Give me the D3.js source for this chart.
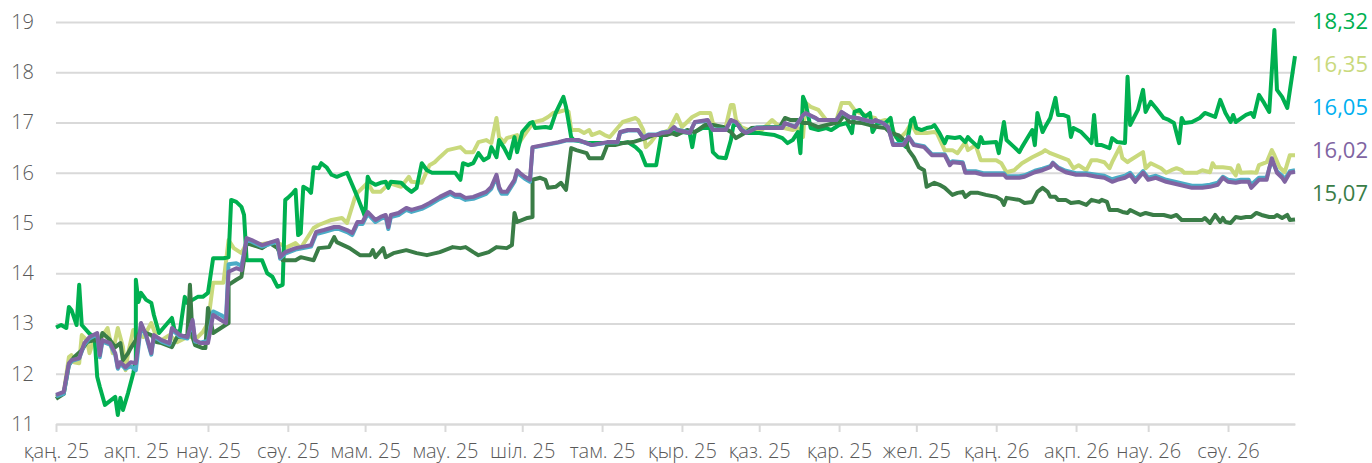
<!DOCTYPE html>
<html>
<head>
<meta charset="utf-8">
<script src="https://cdn.jsdelivr.net/npm/d3@7"></script>
<style>
  body { margin: 0; background: #fff; }
  svg text { font-family: "Open Sans", "Noto Sans", sans-serif; }
</style>
</head>
<body>
<svg id="chart" width="1372" height="463"></svg>
<script>
// day offsets are counted from 1 Jan 2025
const startDate = new Date(2025, 0, 1);
const lastDay = 481;

const monthLabels = ["қаң. 25", "ақп. 25", "нау. 25", "сәу. 25", "мам. 25", "мау. 25", "шіл. 25", "там. 25",
  "қыр. 25", "қаз. 25", "қар. 25", "жел. 25", "қаң. 26", "ақп. 26", "нау. 26", "сәу. 26"];
const yTicks = [11, 12, 13, 14, 15, 16, 17, 18, 19];

// [day, value]
const seriesGreen = [[0,12.92],[2,12.97],[4,12.91],[5,13.33],[6,13.27],[8,12.97],[9,13.77],[10,12.97],[13,12.8],[15,12.73],[16,11.94],[17,11.74],[19,11.38],[23,11.54],[24,11.18],[25,11.52],[26,11.28],[28,11.62],[30,12.01],[31,12.27],[31,13.87],[32,13.43],[33,13.61],[35,13.47],[37,13.41],[38,13.17],[40,12.81],[42,12.93],[45,13.11],[46,12.87],[48,12.81],[50,13.53],[51,13.41],[53,13.47],[55,13.53],[57,13.53],[59,13.61],[61,14.3],[65,14.3],[67,14.32],[68,15.46],[70,15.42],[72,15.32],[73,15.16],[74,14.26],[80,14.26],[82,14.0],[84,13.93],[86,13.73],[88,13.77],[89,15.46],[90,15.5],[92,15.6],[93,15.66],[94,14.76],[95,14.8],[96,15.72],[98,15.66],[99,15.6],[100,16.11],[102,16.09],[103,16.19],[105,16.11],[107,15.96],[109,15.92],[111,15.96],[113,16.0],[115,15.76],[117,15.52],[119,15.26],[120,15.12],[121,15.92],[122,15.82],[124,15.76],[126,15.8],[128,15.82],[129,15.7],[130,15.82],[134,15.8],[136,15.7],[138,15.62],[140,15.7],[142,16.19],[144,16.05],[146,16.0],[150,16.0],[155,16.0],[157,15.86],[158,16.19],[160,16.15],[162,16.19],[164,16.39],[166,16.25],[168,16.31],[169,16.51],[171,16.31],[172,16.65],[174,16.49],[176,16.29],[178,16.71],[179,16.41],[181,16.81],[184,16.99],[185,17.01],[186,16.89],[190,16.91],[192,16.89],[194,17.19],[197,17.51],[198,17.31],[200,16.71],[201,16.65],[207,16.59],[220,16.59],[222,16.61],[225,16.51],[227,16.41],[229,16.15],[233,16.15],[235,16.75],[241,16.81],[243,16.81],[246,16.79],[247,16.51],[248,16.81],[251,16.89],[254,16.89],[255,16.41],[257,16.31],[260,16.29],[262,16.65],[263,16.95],[265,16.95],[267,16.79],[273,16.79],[279,16.75],[282,16.69],[284,16.59],[286,16.65],[288,16.81],[289,16.39],[290,17.51],[291,17.39],[293,16.89],[296,16.85],[299,16.89],[301,16.85],[304,16.95],[307,16.99],[309,16.79],[310,17.21],[312,17.25],[314,17.11],[316,17.19],[317,16.81],[319,16.99],[322,16.99],[324,17.09],[325,16.81],[327,16.65],[330,16.51],[332,17.05],[333,17.09],[334,16.89],[336,16.85],[338,16.89],[340,16.91],[341,16.95],[343,16.79],[345,16.59],[346,16.71],[349,16.69],[351,16.71],[353,16.61],[354,16.71],[355,16.65],[358,16.51],[359,16.71],[360,16.59],[365,16.61],[366,16.39],[368,17.01],[369,16.65],[372,16.51],[374,16.41],[375,16.51],[379,16.85],[380,16.55],[381,17.19],[383,16.81],[384,16.91],[386,17.09],[388,17.49],[389,17.15],[391,17.15],[393,17.11],[394,16.71],[395,16.89],[398,16.81],[401,16.65],[402,16.59],[403,17.15],[404,16.55],[406,16.55],[408,16.51],[409,16.49],[410,16.69],[412,16.61],[415,16.59],[416,17.91],[417,16.95],[420,17.25],[422,17.65],[423,17.21],[425,17.41],[427,17.29],[430,17.09],[432,17.05],[434,16.99],[436,16.59],[437,17.09],[438,16.99],[441,17.01],[444,17.09],[446,17.19],[450,17.11],[452,17.45],[454,17.19],[456,17.01],[457,17.15],[458,17.01],[462,17.15],[464,17.19],[465,17.11],[467,17.55],[469,17.39],[471,17.21],[473,18.84],[474,17.65],[476,17.51],[478,17.29],[481,18.32]];

const seriesYellow = [[0,11.54],[3,11.62],[5,12.33],[6,12.37],[7,12.23],[9,12.21],[10,12.77],[12,12.67],[13,12.41],[15,12.73],[17,12.67],[20,12.91],[21,12.67],[22,12.41],[24,12.91],[26,12.53],[27,12.07],[28,12.41],[30,12.87],[32,12.77],[34,12.73],[37,13.01],[39,12.73],[41,12.67],[44,12.77],[47,12.63],[51,12.73],[55,12.73],[57,12.83],[59,13.01],[61,13.81],[65,13.81],[67,14.66],[69,14.5],[72,14.4],[74,14.6],[77,14.56],[85,14.62],[88,14.56],[89,14.5],[93,14.6],[95,14.5],[100,14.9],[102,14.96],[107,15.06],[111,15.1],[113,15.0],[116,15.5],[117,15.6],[121,15.8],[123,15.62],[126,15.62],[128,15.72],[129,15.8],[134,15.72],[137,15.92],[138,15.82],[142,15.8],[145,16.15],[147,16.21],[149,16.31],[152,16.45],[157,16.51],[159,16.41],[162,16.41],[164,16.61],[167,16.65],[169,16.59],[171,17.09],[172,16.71],[174,16.61],[175,16.69],[179,16.75],[180,16.61],[181,16.69],[184,16.91],[186,17.01],[189,17.05],[191,17.11],[193,17.19],[195,17.21],[198,17.25],[199,17.21],[200,16.85],[203,16.85],[205,16.79],[207,16.85],[208,16.75],[211,16.81],[213,16.75],[215,16.71],[220,17.01],[225,17.09],[226,17.05],[228,16.85],[229,16.51],[231,16.61],[233,16.75],[238,16.85],[241,17.15],[243,16.91],[247,17.11],[250,17.19],[254,17.19],[255,16.99],[257,16.91],[260,16.91],[262,17.35],[263,17.35],[264,17.05],[266,16.91],[269,16.85],[274,16.85],[278,17.05],[281,16.91],[286,16.85],[288,16.89],[290,16.71],[291,17.39],[293,17.31],[296,17.25],[299,17.05],[303,17.05],[305,17.39],[308,17.39],[310,17.25],[312,17.19],[316,17.11],[318,17.09],[319,17.01],[322,17.05],[324,16.99],[326,16.71],[328,16.71],[330,16.81],[332,16.99],[334,16.79],[338,16.79],[341,16.81],[342,16.79],[345,16.45],[348,16.45],[350,16.39],[353,16.61],[354,16.45],[357,16.55],[359,16.25],[365,16.25],[367,16.19],[369,16.01],[372,16.05],[375,16.19],[379,16.31],[383,16.41],[384,16.45],[386,16.39],[390,16.31],[393,16.25],[395,16.09],[397,16.15],[400,16.05],[402,16.25],[404,16.25],[407,16.21],[409,16.09],[410,16.21],[413,16.51],[414,16.29],[416,16.21],[417,16.25],[422,16.41],[423,16.09],[425,16.19],[429,16.09],[431,16.0],[433,16.05],[435,16.09],[437,16.05],[438,16.0],[443,16.0],[445,16.05],[448,16.01],[449,16.19],[450,16.11],[453,16.11],[456,16.09],[458,15.95],[459,16.15],[460,16.0],[464,16.01],[466,16.0],[467,16.15],[470,16.21],[472,16.45],[473,16.35],[475,16.11],[477,16.01],[479,16.35],[481,16.35]];

const seriesBlue = [[0,11.55],[3,11.6],[5,12.17],[6,12.25],[9,12.3],[11,12.58],[13,12.7],[16,12.78],[17,12.33],[18,12.64],[21,12.58],[23,12.38],[24,12.1],[25,12.2],[27,12.1],[29,12.15],[31,12.07],[33,12.98],[35,12.74],[37,12.38],[38,12.74],[41,12.64],[44,12.58],[45,12.88],[48,12.74],[51,12.7],[53,13.04],[54,12.64],[56,12.62],[59,12.66],[61,13.24],[64,13.17],[66,13.1],[67,14.18],[70,14.2],[72,14.15],[74,14.66],[76,14.63],[80,14.53],[86,14.63],[87,14.29],[89,14.39],[93,14.47],[95,14.49],[99,14.53],[101,14.78],[104,14.82],[108,14.88],[110,14.88],[113,14.82],[115,14.76],[117,14.98],[119,14.98],[121,15.18],[124,15.02],[126,15.08],[128,15.12],[129,14.88],[130,15.12],[133,15.16],[136,15.26],[138,15.22],[142,15.28],[145,15.36],[149,15.48],[153,15.58],[155,15.52],[157,15.51],[159,15.46],[162,15.48],[164,15.52],[167,15.58],[169,15.68],[171,15.92],[172,15.68],[173,15.58],[175,15.58],[178,15.82],[179,16.01],[180,15.96],[182,15.88],[184,15.82],[185,16.5],[189,16.54],[193,16.58],[195,16.6],[198,16.64],[203,16.64],[208,16.55],[212,16.58],[214,16.6],[218,16.6],[219,16.8],[222,16.84],[226,16.84],[228,16.7],[230,16.76],[233,16.76],[235,16.8],[238,16.82],[240,16.9],[241,16.86],[246,16.8],[248,17.0],[253,17.04],[255,16.86],[260,16.86],[262,17.04],[264,17.0],[266,16.86],[268,16.8],[272,16.9],[282,16.9],[283,16.98],[285,16.95],[287,16.92],[290,17.14],[291,17.18],[295,17.08],[296,17.05],[303,17.05],[305,17.2],[308,17.11],[311,17.09],[314,17.05],[317,17.01],[318,17.04],[321,16.99],[323,16.92],[325,16.57],[329,16.57],[331,16.72],[333,16.57],[337,16.53],[340,16.37],[345,16.37],[347,16.18],[348,16.23],[352,16.21],[353,16.03],[357,16.03],[360,15.99],[368,15.99],[369,15.93],[374,15.93],[376,15.95],[380,16.04],[383,16.08],[386,16.13],[387,16.2],[389,16.11],[392,16.04],[396,15.99],[400,15.99],[404,15.96],[407,15.94],[410,15.87],[412,15.9],[415,15.94],[417,16.0],[419,15.87],[422,16.03],[424,15.9],[427,15.94],[431,15.86],[436,15.8],[441,15.74],[445,15.74],[448,15.76],[451,15.8],[453,15.92],[455,15.86],[458,15.84],[460,15.86],[463,15.86],[464,15.76],[467,15.9],[470,15.9],[471,16.08],[472,16.24],[474,16.03],[476,15.94],[477,15.87],[479,16.03],[481,16.05]];

const seriesPurple = [[0,11.58],[3,11.64],[5,12.21],[6,12.27],[9,12.31],[11,12.61],[13,12.73],[16,12.81],[17,12.37],[18,12.67],[21,12.61],[23,12.41],[24,12.13],[25,12.23],[27,12.13],[29,12.23],[31,12.21],[33,13.01],[35,12.77],[37,12.41],[38,12.77],[41,12.67],[44,12.61],[45,12.91],[48,12.77],[51,12.73],[53,13.07],[54,12.67],[56,12.61],[59,12.61],[61,13.17],[64,13.07],[66,13.01],[67,14.03],[70,14.1],[72,14.06],[74,14.7],[76,14.66],[80,14.56],[86,14.66],[87,14.32],[89,14.42],[93,14.5],[95,14.52],[99,14.56],[101,14.82],[104,14.86],[108,14.92],[110,14.92],[113,14.86],[115,14.8],[117,15.02],[119,15.02],[121,15.22],[124,15.06],[126,15.12],[128,15.16],[129,14.92],[130,15.16],[133,15.2],[136,15.3],[138,15.26],[142,15.32],[145,15.4],[149,15.52],[153,15.62],[155,15.56],[157,15.56],[159,15.5],[162,15.52],[164,15.56],[167,15.62],[169,15.72],[171,15.96],[172,15.72],[173,15.62],[175,15.62],[178,15.86],[179,16.05],[180,16.0],[182,15.92],[184,15.86],[185,16.51],[189,16.55],[193,16.59],[195,16.61],[198,16.65],[203,16.65],[208,16.55],[212,16.59],[214,16.61],[218,16.61],[219,16.81],[222,16.85],[226,16.85],[228,16.69],[230,16.75],[233,16.75],[235,16.79],[238,16.81],[240,16.91],[241,16.85],[246,16.79],[248,17.01],[253,17.05],[255,16.85],[260,16.85],[262,17.05],[264,17.01],[266,16.85],[268,16.79],[272,16.89],[282,16.89],[283,16.99],[285,16.95],[287,16.91],[290,17.15],[291,17.19],[295,17.09],[296,17.05],[303,17.05],[305,17.21],[308,17.11],[311,17.09],[314,17.05],[317,17.01],[318,17.05],[321,16.99],[323,16.91],[325,16.55],[329,16.55],[331,16.71],[333,16.55],[337,16.51],[340,16.35],[345,16.35],[347,16.15],[348,16.21],[352,16.19],[353,16.0],[357,16.0],[360,15.96],[368,15.96],[369,15.9],[374,15.9],[376,15.92],[380,16.01],[383,16.05],[386,16.11],[387,16.19],[389,16.09],[392,16.01],[396,15.96],[400,15.96],[404,15.92],[407,15.9],[410,15.82],[412,15.86],[415,15.9],[417,15.96],[419,15.82],[422,16.0],[424,15.86],[427,15.9],[431,15.82],[436,15.76],[441,15.7],[445,15.7],[448,15.72],[451,15.76],[453,15.9],[455,15.82],[458,15.8],[460,15.82],[463,15.82],[464,15.7],[467,15.86],[470,15.86],[471,16.09],[472,16.29],[474,16.0],[476,15.9],[477,15.82],[479,16.0],[481,16.02]];

const seriesDark = [[0,11.5],[3,11.6],[5,12.17],[7,12.33],[10,12.47],[12,12.63],[15,12.67],[17,12.61],[18,12.81],[21,12.67],[23,12.53],[25,12.61],[26,12.27],[28,12.41],[29,12.51],[31,12.67],[33,12.87],[35,12.81],[37,12.77],[39,12.63],[41,12.61],[45,12.53],[47,12.73],[49,12.73],[51,12.77],[52,13.77],[53,12.73],[54,12.57],[57,12.51],[58,12.51],[59,13.31],[61,12.81],[64,12.91],[67,13.01],[67,13.77],[70,13.87],[72,13.93],[74,14.6],[80,14.5],[83,14.6],[86,14.5],[88,14.26],[93,14.26],[95,14.32],[100,14.26],[102,14.5],[106,14.52],[108,14.72],[109,14.62],[114,14.5],[118,14.36],[122,14.36],[123,14.46],[124,14.32],[127,14.5],[128,14.32],[131,14.4],[136,14.46],[140,14.4],[144,14.36],[149,14.42],[154,14.52],[157,14.5],[159,14.52],[162,14.42],[164,14.36],[168,14.42],[171,14.52],[175,14.5],[177,14.56],[178,15.2],[179,15.02],[183,15.1],[185,15.12],[185,15.86],[188,15.9],[190,15.86],[191,15.7],[194,15.72],[196,15.8],[198,15.66],[200,16.49],[202,16.45],[206,16.39],[207,16.29],[212,16.29],[214,16.55],[217,16.55],[220,16.59],[224,16.61],[229,16.69],[232,16.75],[237,16.75],[239,16.79],[241,16.75],[245,16.85],[248,16.81],[252,16.95],[255,16.95],[259,16.91],[262,16.81],[264,16.69],[266,16.75],[268,16.81],[270,16.89],[276,16.91],[281,16.91],[283,17.09],[285,17.05],[288,17.05],[290,16.99],[292,16.99],[296,16.91],[304,17.01],[306,17.15],[308,17.01],[313,16.99],[316,16.95],[319,16.91],[322,16.89],[324,16.79],[327,16.75],[330,16.61],[331,16.45],[333,16.31],[335,16.11],[337,16.05],[338,15.72],[341,15.8],[343,15.76],[345,15.7],[348,15.56],[350,15.6],[352,15.62],[353,15.52],[355,15.6],[358,15.6],[361,15.56],[365,15.52],[367,15.46],[368,15.36],[369,15.5],[374,15.46],[376,15.4],[379,15.42],[381,15.62],[383,15.7],[385,15.62],[386,15.52],[388,15.52],[389,15.46],[392,15.46],[394,15.4],[397,15.42],[400,15.36],[402,15.46],[405,15.42],[406,15.46],[408,15.42],[409,15.26],[412,15.26],[414,15.22],[416,15.2],[417,15.26],[421,15.16],[423,15.2],[426,15.16],[430,15.16],[433,15.12],[435,15.16],[437,15.06],[445,15.06],[446,15.1],[448,15.0],[450,15.16],[452,15.02],[453,15.1],[454,15.02],[456,15.0],[458,15.12],[460,15.1],[462,15.12],[464,15.12],[466,15.2],[468,15.16],[471,15.12],[473,15.12],[474,15.16],[476,15.1],[478,15.16],[479,15.06],[481,15.07]];

// label order on the right, top to bottom
const labelOrder = ["green", "yellow", "blue", "purple", "dark"];

const lineColor = { green: "#00b050", yellow: "#c9d97c", blue: "#4bacc6", purple: "#8064a2", dark: "#3a7d47" };
const labelColor = { green: "#00b050", yellow: "#c9d97c", blue: "#00b0f0", purple: "#8064a2", dark: "#3a7d47" };

function init() {
    const series = { green: seriesGreen, yellow: seriesYellow, blue: seriesBlue, purple: seriesPurple, dark: seriesDark };
    const drawOrder = ["yellow", "green", "dark", "blue", "purple"];

    const svg = d3.select("#chart");
    const left = 56, right = 1295, top = 22, bottom = 424;

    const toDate = d => d3.timeDay.offset(startDate, d);

    var x = d3.scaleTime().domain([startDate, toDate(lastDay)]).range([left, right]);
    var y = d3.scaleLinear().domain([11, 19]).range([bottom, top]);

    // horizontal grid + y labels
    const gy = svg.append("g")
      .attr("transform", `translate(${left},0)`)
      .call(d3.axisLeft(y).tickValues(yTicks).tickSize(-(right - left)).tickPadding(22).tickFormat(d3.format("d")));
    gy.select(".domain").remove();
    gy.selectAll(".tick line").attr("stroke", "#d9d9d9").attr("stroke-width", 2);
    gy.selectAll(".tick text").attr("fill", "#595959").attr("font-size", 20).style("font-weight", 300);

    // month axis
    const months = d3.timeMonth.range(startDate, toDate(lastDay));
    const gx = svg.append("g")
      .attr("transform", `translate(0,${bottom})`)
      .call(d3.axisBottom(x).tickValues(months).tickSize(8).tickSizeOuter(0).tickPadding(12)
        .tickFormat((d, i) => monthLabels[i]));
    gx.select(".domain").attr("stroke", "#d9d9d9").attr("stroke-width", 2);
    gx.selectAll(".tick line").attr("stroke", "#d9d9d9").attr("stroke-width", 2);
    gx.selectAll(".tick text").attr("fill", "#595959").attr("font-size", 20).style("font-weight", 300);

    const line = d3.line()
      .x(d => x(toDate(d[0])))
      .y(d => y(d[1]));

    drawOrder.forEach(key => {
        svg.append("path")
          .datum(series[key])
          .attr("fill", "none")
          .attr("stroke", lineColor[key])
          .attr("stroke-width", 4)
          .attr("stroke-linejoin", "round")
          .attr("d", line);
    });

    // last values on the right
    const fmt = v => d3.format(".2f")(v).replace(".", ",");
    labelOrder.forEach((key, i) => {
        const data = series[key];
        svg.append("text")
          .attr("x", 1312)
          .attr("y", 21 + i * 43)
          .attr("dy", "0.36em")
          .attr("fill", labelColor[key])
          .attr("font-size", 22)
          .style("font-weight", 400)
          .text(fmt(data[data.length - 1][1]));
    });
}

init();
</script>
</body>
</html>
